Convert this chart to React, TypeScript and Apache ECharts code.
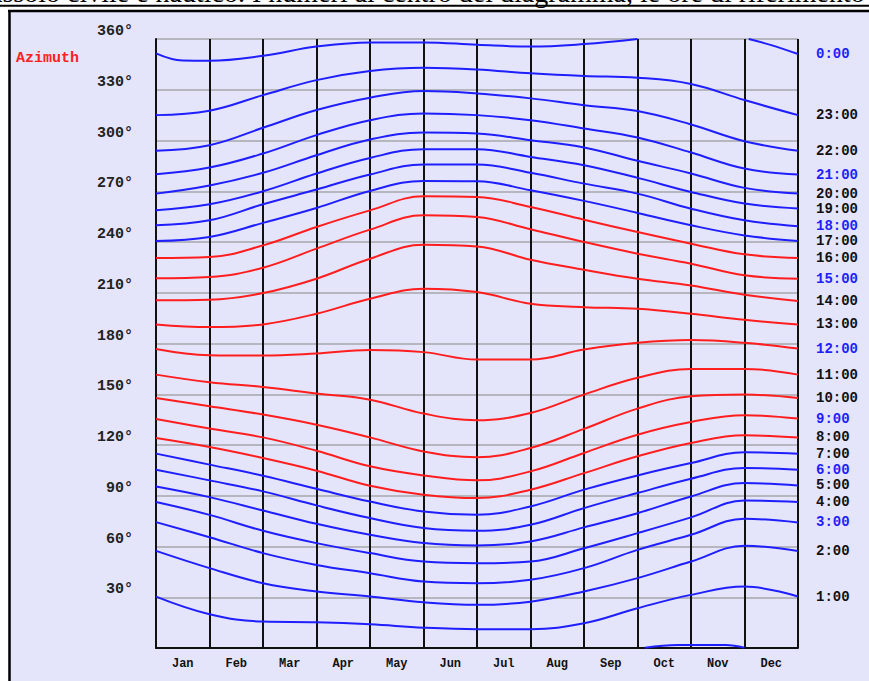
import React, { useEffect, useRef } from 'react';
import * as echarts from 'echarts';

const months = ['Jan', 'Feb', 'Mar', 'Apr', 'May', 'Jun', 'Jul', 'Aug', 'Sep', 'Oct', 'Nov', 'Dec'];
const yTicks = [30, 60, 90, 120, 150, 180, 210, 240, 270, 300, 330, 360];
const hourLabels = ['0:00', '1:00', '2:00', '3:00', '4:00', '5:00', '6:00', '7:00', '8:00', '9:00', '10:00', '11:00',
  '12:00', '13:00', '14:00', '15:00', '16:00', '17:00', '18:00', '19:00', '20:00', '21:00', '22:00', '23:00'];

// azimuth (deg) at the start of each month, Jan 1 ... Dec 31
// 0:00 crosses north (360°) in autumn: upper part, wrapped part (shown near 0°) and December tail
const h00Main = [[0, 351.5], [0.5, 347.3], [1, 347.2], [2, 350.1], [3, 355.5], [4, 358.0], [5, 358.0], [6, 356.6], [7, 355.5], [8, 357.0], [9, 360.0]];
const h00Wrapped = [[9.14, 0.2], [9.75, 1.8], [10, 1.8], [10.65, 1.8], [11, 0.2]];
const h00Tail = [[11.08, 360], [11.5, 356.4], [12, 351.1]];
const h01 = [30.4, 20.0, 15.6, 15.2, 14.0, 12.0, 11.1, 11.1, 14.6, 23.5, 31.4, 36.3, 30.4];
const h02 = [57.4, 47.2, 38.3, 33.4, 30.4, 27.0, 25.5, 27.4, 33.4, 41.3, 51.1, 60.4, 57.4];
const h03 = [74.4, 65.5, 56.1, 49.1, 44.2, 39.3, 38.3, 40.3, 47.2, 58.0, 66.9, 76.4, 74.2];
const h04 = [86.3, 78.7, 69.3, 62.0, 56.1, 51.1, 50.1, 51.1, 59.0, 67.9, 77.2, 87.2, 86.3];
const h05 = [95.5, 89.2, 81.3, 73.4, 66.9, 62.0, 60.6, 63.0, 71.3, 79.7, 89.6, 97.5, 96.1];
const h06 = [105.4, 99.1, 92.6, 84.3, 76.8, 70.9, 69.3, 72.8, 82.7, 91.6, 100.1, 106.4, 105.4];
const h07 = [114.9, 108.4, 101.8, 94.1, 86.6, 80.7, 78.7, 83.7, 93.6, 102.0, 109.3, 115.7, 114.9];
const h08 = [124.1, 118.8, 112.3, 104.8, 95.9, 90.6, 88.6, 93.6, 103.4, 113.3, 121.2, 125.7, 124.5];
const h09 = [135.4, 129.7, 124.5, 116.6, 107.4, 102.0, 99.1, 104.4, 115.3, 126.1, 133.6, 137.6, 135.6];
const h10 = [147.8, 142.9, 138.0, 132.0, 124.5, 116.2, 112.7, 118.2, 129.5, 141.5, 148.8, 149.8, 147.8];
const h11 = [161.6, 157.1, 154.3, 150.4, 146.8, 138.6, 134.6, 138.9, 149.8, 159.7, 165.0, 165.0, 161.6];
const h12 = [176.8, 173.1, 172.9, 174.1, 176.1, 174.9, 170.5, 170.5, 176.4, 180.4, 182.0, 180.4, 177.0];
const h13 = [191.3, 189.7, 191.3, 197.6, 206.4, 212.4, 210.4, 203.5, 201.5, 200.5, 197.6, 194.0, 191.3];
const h14 = [205.5, 205.9, 209.8, 218.3, 230.1, 238.4, 237.4, 229.5, 223.6, 218.3, 214.3, 208.8, 205.1];
const h15 = [218.5, 219.3, 224.8, 236.1, 247.3, 255.8, 254.8, 247.5, 240.0, 233.1, 227.2, 220.3, 218.3];
const h16 = [230.5, 231.1, 238.0, 248.9, 258.7, 267.0, 266.6, 260.7, 253.2, 245.9, 239.0, 232.7, 230.5];
const h17 = [240.6, 243.0, 251.3, 260.1, 270.2, 276.1, 275.9, 270.6, 264.3, 257.2, 249.9, 243.9, 240.6];
const h18 = [249.9, 252.8, 262.3, 271.0, 279.9, 285.8, 285.8, 280.9, 274.5, 268.6, 259.7, 252.8, 249.3];
const h19 = [258.8, 262.3, 270.0, 280.5, 289.7, 294.9, 294.9, 290.3, 285.4, 277.9, 269.6, 262.7, 259.8];
const h20 = [268.6, 273.4, 280.9, 291.3, 300.6, 304.7, 304.1, 300.2, 295.9, 288.0, 280.5, 272.0, 268.6];
const h21 = [280.1, 284.0, 292.3, 303.2, 312.0, 316.0, 315.0, 312.0, 307.1, 301.8, 292.9, 283.4, 279.9];
const h22 = [293.9, 297.2, 307.5, 318.0, 325.3, 329.2, 327.8, 324.9, 320.9, 317.4, 309.5, 299.6, 293.9];
const h23 = [315.0, 317.6, 326.8, 335.7, 341.1, 343.0, 342.0, 339.7, 338.1, 337.1, 333.4, 323.9, 315.0];

// spans (in months) when the sun is above the horizon at that hour (drawn red)
const day05 = [4.25, 6.55];
const day06 = [2.96, 8.67];
const day07 = [1.94, 10.01];
const day17 = [0.56, 10.01];
const day18 = [2.07, 8.77];
const day19 = [3.88, 7.55];
const alwaysDayHours = [8, 9, 10, 11, 12, 13, 14, 15, 16];

const BLUE = '#1e1eff';
const RED = '#ff1e1e';
const MONO = "'Liberation Mono', 'DejaVu Sans Mono', monospace";

export default function App() {
  const ref = useRef<HTMLDivElement>(null);
  useEffect(() => {
    const chart = echarts.init(ref.current!, undefined, { renderer: 'svg' });
    const toPairs = (arr: number[]) => arr.map((v, i) => [i, v]);
    const h00 = [...h00Main, [9.07, '-'], ...h00Wrapped, [11.04, '-'], ...h00Tail];
    const hourData: any[] = [h00, toPairs(h01), toPairs(h02), toPairs(h03), toPairs(h04), toPairs(h05),
      toPairs(h06), toPairs(h07), toPairs(h08), toPairs(h09), toPairs(h10), toPairs(h11), toPairs(h12),
      toPairs(h13), toPairs(h14), toPairs(h15), toPairs(h16), toPairs(h17), toPairs(h18), toPairs(h19),
      toPairs(h20), toPairs(h21), toPairs(h22), toPairs(h23)];
    const daySpans: Record<number, number[]> = { 5: day05, 6: day06, 7: day07, 17: day17, 18: day18, 19: day19 };

    const series = hourData.map((d, h) => {
      const base = alwaysDayHours.includes(h) ? RED : BLUE;
      return {
        type: 'line',
        name: hourLabels[h],
        xAxisIndex: 0,
        yAxisIndex: 0,
        data: d,
        smooth: 0.4,
        symbol: 'none',
        showSymbol: false,
        silent: true,
        lineStyle: { width: 2, color: base },
        itemStyle: { color: base },
        emphasis: { disabled: true },
        endLabel: {
          show: true,
          formatter: hourLabels[h],
          color: h % 3 === 0 ? BLUE : '#111',
          fontFamily: MONO,
          fontSize: 14,
          lineHeight: 12,
          fontWeight: 'bold',
          distance: 18,
        },
        z: 3,
      };
    });

    const visualMap = Object.keys(daySpans).map((k) => {
      const h = Number(k);
      const [a, b] = daySpans[h];
      return {
        type: 'piecewise',
        show: false,
        dimension: 0,
        seriesIndex: h,
        pieces: [
          { lt: a, color: BLUE },
          { gte: a, lte: b, color: RED },
          { gt: b, color: BLUE },
        ],
      };
    });

    chart.setOption({
      animation: false,
      backgroundColor: '#e4e4fb',
      grid: { left: 156, right: 71, top: 39, bottom: 33, containLabel: false },
      xAxis: [
        {
          type: 'value', min: 0, max: 12, interval: 1,
          axisLine: { show: true, onZero: false, lineStyle: { color: '#111', width: 2 } },
          axisTick: { show: false },
          axisLabel: { show: false },
          splitLine: { show: true, lineStyle: { color: '#111', width: 2 } },
        },
        {
          type: 'category', data: months, position: 'bottom', boundaryGap: true,
          axisLine: { show: false }, axisTick: { show: false }, splitLine: { show: false },
          axisLabel: { color: '#111', fontFamily: MONO, fontSize: 12, fontWeight: 'bold', margin: 10 },
        },
      ],
      yAxis: {
        type: 'value', min: 0, max: 360, interval: 30,
        axisLine: { show: true, lineStyle: { color: '#111', width: 2 } },
        axisTick: { show: false },
        axisLabel: {
          formatter: (v: number) => (yTicks.includes(v) ? v + '°' : ''),
          color: '#222', fontFamily: MONO, fontSize: 15, fontWeight: 'bold', margin: 23, verticalAlign: 'bottom',
        },
        splitLine: { show: true, lineStyle: { color: '#b6b6be', width: 2 } },
      },
      visualMap,
      series,
      graphic: [
        { type: 'rect', shape: { x: 0, y: 0, width: 869, height: 10 }, style: { fill: '#fff' }, silent: true },
        { type: 'rect', shape: { x: 0, y: 0, width: 8, height: 681 }, style: { fill: '#fff' }, silent: true },
        {
          type: 'text', x: -10, y: 6.5, silent: true,
          style: {
            text: 'assolo civile e nautico. I numeri al centro del diagramma, le ore di riferimento',
            font: '28px "Liberation Serif", serif', fill: '#000', verticalAlign: 'bottom',
          },
        },
        { type: 'line', shape: { x1: 0, y1: 5.8, x2: 869, y2: 5.8 }, style: { stroke: '#000', lineWidth: 2 }, silent: true },
        { type: 'line', shape: { x1: 8, y1: 11, x2: 869, y2: 11 }, style: { stroke: '#000', lineWidth: 2.5 }, silent: true },
        { type: 'line', shape: { x1: 9.5, y1: 10, x2: 9.5, y2: 681 }, style: { stroke: '#000', lineWidth: 2.5 }, silent: true },
        {
          type: 'text', x: 16, y: 58, silent: true,
          style: { text: 'Azimuth', font: `bold 15px ${MONO}`, fill: '#ff2020', verticalAlign: 'middle' },
        },
      ],
    });
    return () => chart.dispose();
  }, []);
  return <div ref={ref} style={{ position: 'fixed', left: 0, top: 0, width: 869, height: 681 }} />;
}
